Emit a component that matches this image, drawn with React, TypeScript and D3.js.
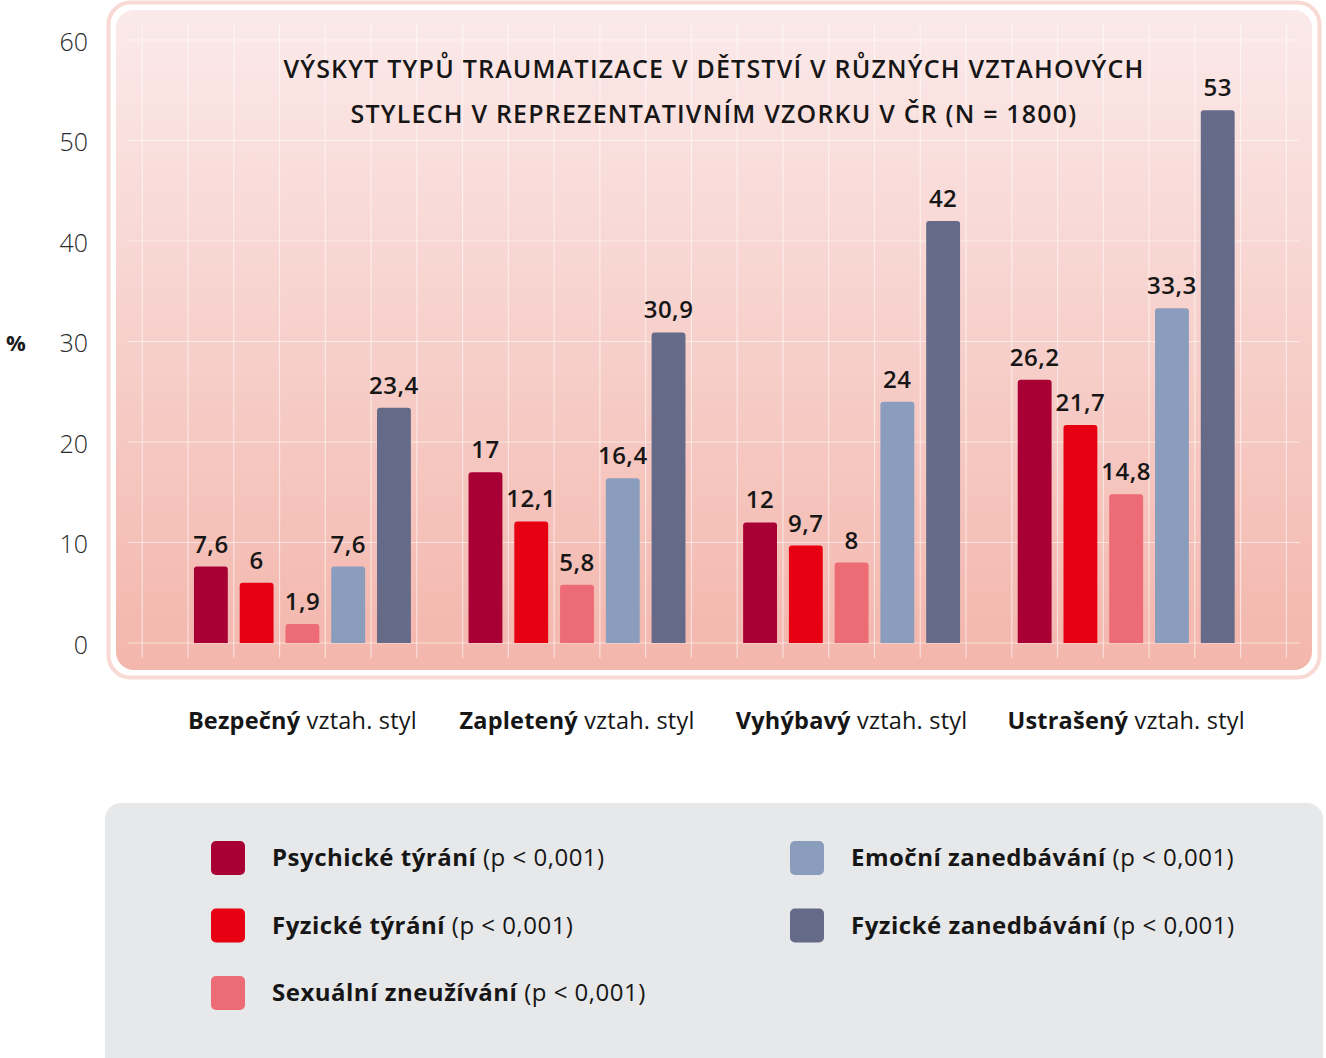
import * as d3 from "d3";

const W = 1326;
const H = 1058;

const categories = ["Bezpečný", "Zapletený", "Vyhýbavý", "Ustrašený"];
const categorySuffix = " vztah. styl";

const seriesNames = [
  "Psychické týrání",
  "Fyzické týrání",
  "Sexuální zneužívání",
  "Emoční zanedbávání",
  "Fyzické zanedbávání",
];
const seriesColors = ["#a80034", "#e60012", "#ec6b75", "#8b9dbd", "#646a87"];
const pNote = " (p < 0,001)";

const psychicke = [7.6, 17, 12, 26.2];
const fyzickeTyrani = [6, 12.1, 9.7, 21.7];
const sexualni = [1.9, 5.8, 8, 14.8];
const emocni = [7.6, 16.4, 24, 33.3];
const fyzickeZanedbavani = [23.4, 30.9, 42, 53];
const seriesValues = [psychicke, fyzickeTyrani, sexualni, emocni, fyzickeZanedbavani];

const yTicks = [0, 10, 20, 30, 40, 50, 60];
const titleLines = [
  "VÝSKYT TYPŮ TRAUMATIZACE V DĚTSTVÍ V RŮZNÝCH VZTAHOVÝCH",
  "STYLECH V REPREZENTATIVNÍM VZORKU V ČR (N = 1800)",
];

const FONT = "'Open Sans', 'Noto Sans', sans-serif";

const fmt = (v: number) => String(v).replace(".", ",");

// rounded top corners only
const barPath = (x: number, y: number, w: number, h: number, r: number) => {
  const rr = Math.min(r, h / 2, w / 2);
  return `M${x},${y + h}V${y + rr}Q${x},${y} ${x + rr},${y}H${x + w - rr}Q${x + w},${y} ${x + w},${y + rr}V${y + h}Z`;
};

const App = () => {
  const y = d3.scaleLinear().domain([0, 60]).range([643, 40]);

  const x0 = d3.scaleBand<string>().domain(categories).range([188, 1240.6]).paddingInner(1 / 6);
  const x1 = d3
    .scaleBand<number>()
    .domain(d3.range(seriesNames.length))
    .range([0, x0.bandwidth()])
    .paddingInner(0.26)
    .paddingOuter(0.13);

  const cell = x1.step();
  const gridStart = (x0.range()[0] as number) - cell;
  const vLines = d3.range(26).map((i) => gridStart + i * cell);

  return (
    <svg
      width={W}
      height={H}
      style={{ position: "absolute", left: 0, top: 0, display: "block", fontFamily: FONT }}
    >
      <defs>
        <linearGradient id="bg" x1="0" y1="0" x2="0" y2="1">
          <stop offset="0%" stopColor="#fbeaea" />
          <stop offset="100%" stopColor="#f3b6ac" />
        </linearGradient>
      </defs>

      {/* plot frame */}
      <rect x={108.5} y={2.5} width={1211} height={675} rx={22} fill="#fff" stroke="#f9d9d3" strokeWidth={4} />
      <rect x={116} y={10} width={1196} height={660} rx={18} fill="url(#bg)" />

      {/* grid */}
      <g stroke="#fff" strokeOpacity={0.55} strokeWidth={1.2}>
        {vLines.map((vx, i) => (
          <line key={"v" + i} x1={vx} x2={vx} y1={24} y2={658} />
        ))}
        {yTicks.map((t) => (
          <line key={"h" + t} x1={128} x2={1300} y1={y(t)} y2={y(t)} />
        ))}
      </g>

      {/* y axis labels */}
      <g fontSize={25} fill="#2a2a2a" textAnchor="end" fontWeight={300}>
        {yTicks.map((t) => (
          <text key={t} x={88} y={y(t) + 2} dy="0.35em">
            {t}
          </text>
        ))}
      </g>
      <text x={6} y={y(30) + 2} dy="0.35em" fontSize={22} fontWeight={700} fill="#1a1a1a">
        %
      </text>

      {/* title */}
      <g textAnchor="middle" fontSize={25} fontWeight={600} fill="#161616" letterSpacing={1.2}>
        {titleLines.map((l, i) => (
          <text key={i} x={714} y={78 + i * 44.5}>
            {l}
          </text>
        ))}
      </g>

      {/* bars */}
      {categories.map((c, ci) => (
        <g key={c} transform={`translate(${x0(c)},0)`}>
          {seriesValues.map((vals, si) => {
            const bx = x1(si) as number;
            const bw = x1.bandwidth();
            const top = y(vals[ci]);
            return (
              <g key={si}>
                <path d={barPath(bx, top, bw, y(0) - top, 3)} fill={seriesColors[si]} />
                <text
                  x={bx + bw / 2}
                  y={top - 14}
                  textAnchor="middle"
                  fontSize={24}
                  fontWeight={600}
                  fill="#161616"
                  letterSpacing={0.5}
                >
                  {fmt(vals[ci])}
                </text>
              </g>
            );
          })}
        </g>
      ))}

      {/* category labels */}
      <g textAnchor="middle" fontSize={23.5} fill="#161616" letterSpacing={0.2}>
        {categories.map((c) => (
          <text key={c} x={(x0(c) as number) + x0.bandwidth() / 2} y={729}>
            <tspan fontWeight={700}>{c}</tspan>
            <tspan fontWeight={400}>{categorySuffix}</tspan>
          </text>
        ))}
      </g>

      {/* legend */}
      <rect x={105} y={803} width={1218} height={280} rx={16} fill="#e7e8ea" />
      {seriesNames.map((n, i) => {
        const col = i < 3 ? 0 : 1;
        const row = i < 3 ? i : i - 3;
        const lx = col === 0 ? 211 : 790;
        const ly = 858 + row * 67.5;
        return (
          <g key={n}>
            <rect x={lx} y={ly - 17} width={34} height={34} rx={5} fill={seriesColors[i]} />
            <text x={lx + 61} y={ly} dy="0.35em" fontSize={24} fill="#161616" letterSpacing={0.5}>
              <tspan fontWeight={700}>{n}</tspan>
              <tspan fontWeight={400}>{pNote}</tspan>
            </text>
          </g>
        );
      })}
    </svg>
  );
};

export default App;
